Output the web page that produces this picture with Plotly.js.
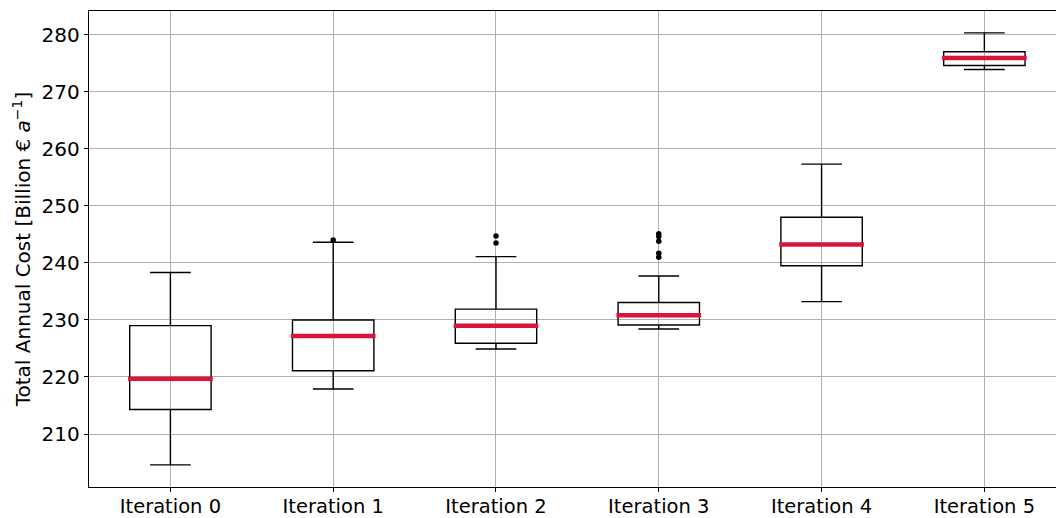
<!DOCTYPE html>
<html>
<head>
<meta charset="utf-8">
<script src="https://cdn.plot.ly/plotly-3.0.1.min.js"></script>
<style>
html, body { margin: 0; padding: 0; background: #fff; overflow: hidden; }
#chart { width: 1056px; height: 518px; }
</style>
</head>
<body>
<div id="chart"></div>
<script>
const categories = ['Iteration 0', 'Iteration 1', 'Iteration 2', 'Iteration 3', 'Iteration 4', 'Iteration 5'];
const lowerWhisker = [204.6, 217.9, 224.9, 228.4, 233.2, 273.9];
const q1 = [214.3, 221.1, 225.9, 229.1, 239.5, 274.6];
const median = [219.7, 227.2, 229.0, 230.8, 243.2, 275.9];
const q3 = [229.0, 230.0, 231.9, 233.05, 248.0, 277.0];
const upperWhisker = [238.3, 243.6, 241.1, 237.7, 257.3, 280.3];
const outliers = [[], [244.0], [244.7, 243.5], [245.1, 244.6, 243.8, 241.7, 241.0], [], []];
const yTicks = [210, 220, 230, 240, 250, 260, 270, 280];

const pos = categories.map((c, i) => i);
const boxWidth = 0.5;

const traces = [];
traces.push({
  type: 'box',
  x: pos,
  q1: q1,
  median: median,
  q3: q3,
  lowerfence: lowerWhisker,
  upperfence: upperWhisker,
  width: boxWidth,
  whiskerwidth: 0.5,
  boxpoints: false,
  fillcolor: 'rgba(0,0,0,0)',
  line: { color: '#000000', width: 1.4 },
  showlegend: false,
  hoverinfo: 'skip'
});

// median lines (red)
const mx = [], my = [];
pos.forEach((p, i) => {
  mx.push(p - boxWidth / 2 - 0.01, p + boxWidth / 2 + 0.01, null);
  my.push(median[i], median[i], null);
});
traces.push({
  type: 'scatter', mode: 'lines', x: mx, y: my,
  line: { color: '#DC143C', width: 4.5 },
  showlegend: false, hoverinfo: 'skip'
});

// outliers
const ox = [], oy = [];
outliers.forEach((arr, i) => arr.forEach(v => { ox.push(pos[i]); oy.push(v); }));
traces.push({
  type: 'scatter', mode: 'markers', x: ox, y: oy,
  marker: { color: '#000000', size: 5.5 },
  showlegend: false, hoverinfo: 'skip'
});

const font = 'DejaVu Sans, sans-serif';
const layout = {
  width: 1056, height: 518,
  margin: { l: 89, r: 0, t: 11, b: 31 },
  paper_bgcolor: '#ffffff', plot_bgcolor: '#ffffff',
  font: { family: font, size: 20, color: '#000000' },
  xaxis: {
    range: [-0.5, 5.44],
    tickvals: pos, ticktext: categories,
    showgrid: true, gridcolor: '#b0b0b0', gridwidth: 1,
    showline: true, linecolor: '#000000', linewidth: 1.2, mirror: true,
    ticks: 'outside', ticklen: 4, tickcolor: '#000000',
    ticklabelstandoff: -3,
    zeroline: false,
    tickfont: { family: font, size: 19.5 }
  },
  yaxis: {
    range: [200.72, 284.14],
    tickvals: yTicks,
    showgrid: true, gridcolor: '#b0b0b0', gridwidth: 1,
    showline: true, linecolor: '#000000', linewidth: 1.2, mirror: false,
    ticks: 'outside', ticklen: 4, tickcolor: '#000000',
    zeroline: false,
    tickfont: { family: font, size: 20 },
    title: { text: 'Total Annual Cost [Billion € <i>a</i><sup>−1</sup>]', font: { family: font, size: 20 }, standoff: 5 }
  },
  showlegend: false
};

Plotly.newPlot('chart', traces, layout, { displayModeBar: false, staticPlot: true });
</script>
</body>
</html>
